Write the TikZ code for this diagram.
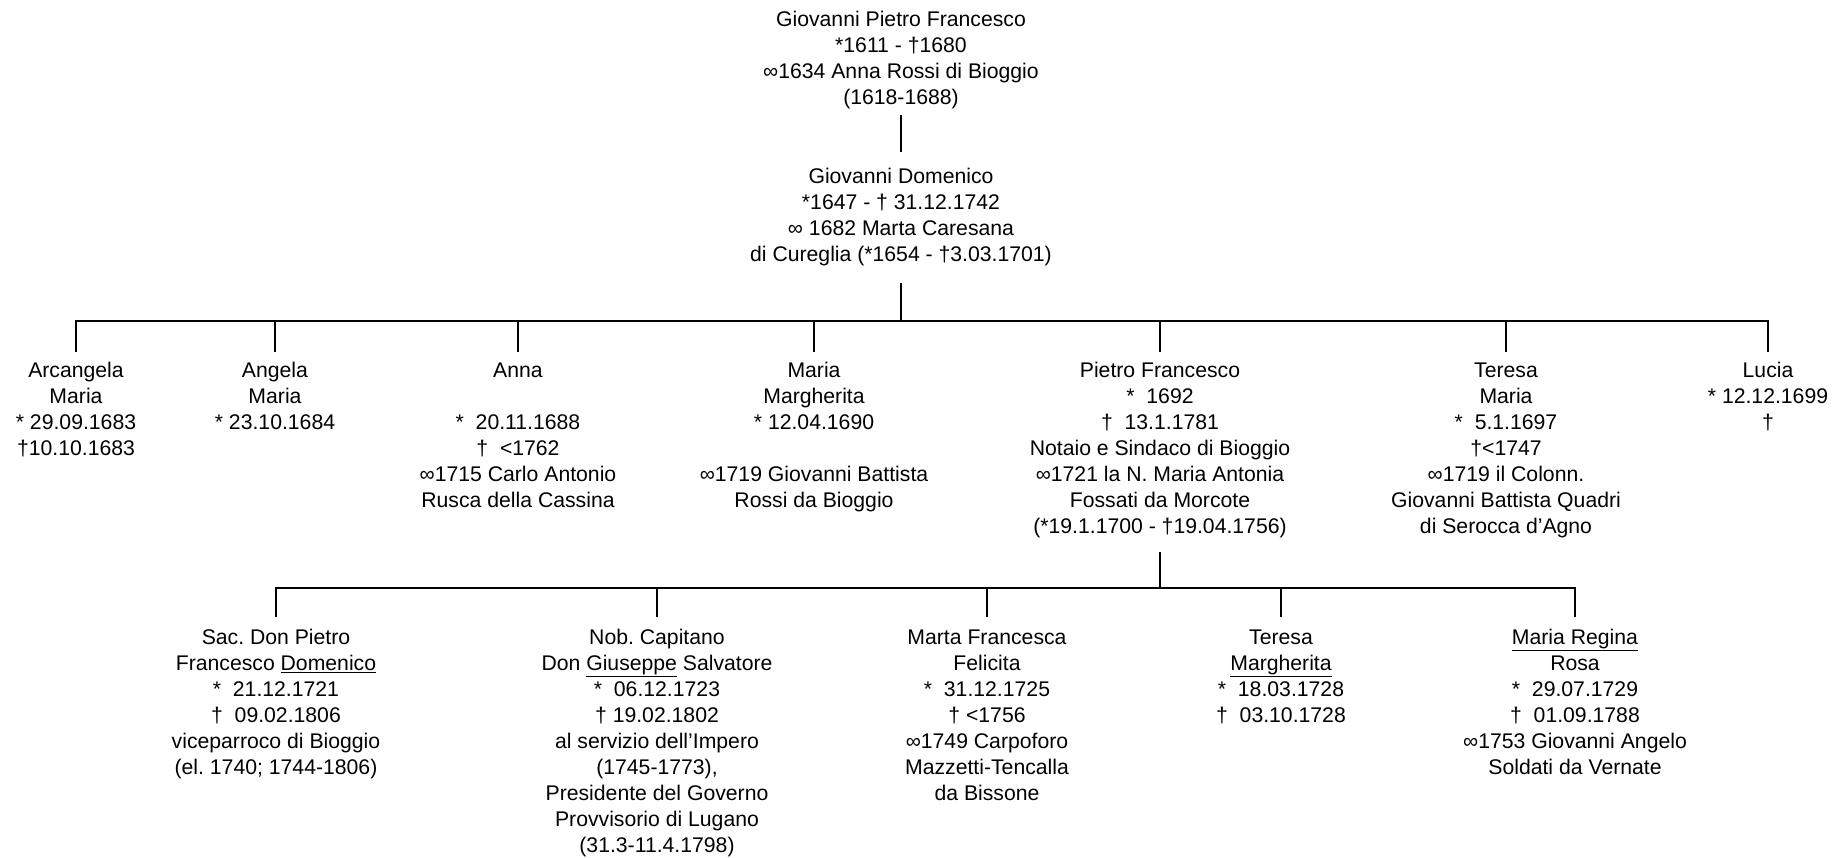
\documentclass[tikz,border=0pt]{standalone}
\usepackage{fontspec}
\setmainfont{Liberation Sans}
\frenchspacing

\begin{document}
\begin{tikzpicture}[x=1pt, y=-1pt, line width=2pt, font=\fontsize{21.2}{26}\selectfont,
    person/.style={align=center, inner sep=0pt, anchor=north}]
    \useasboundingbox (0,0) rectangle (1847,857);

    \node[person] (gpf) at (901,10.5) {Giovanni Pietro Francesco\\ *1611 - †1680\\ ∞1634 Anna Rossi di Bioggio\\ (1618-1688)};
    \node[person] (gd) at (901,167.5) {Giovanni Domenico\\ *1647 - † 31.12.1742\\ ∞ 1682 Marta Caresana\\ di Cureglia (*1654 - †3.03.1701)};

    \node[person] (arcangela) at (76,361.5) {Arcangela\\ Maria\\ * 29.09.1683\\ †10.10.1683};
    \node[person] (angela) at (275,361.5) {Angela\\ Maria\\ * 23.10.1684};
    \node[person] (anna) at (518,361.5) {Anna\\[26pt] *\ \ 20.11.1688\\ †\ \ <1762\\ ∞1715 Carlo Antonio\\ Rusca della Cassina};
    \node[person] (mariam) at (814,361.5) {Maria\\ Margherita\\ * 12.04.1690\\[26pt] ∞1719 Giovanni Battista\\ Rossi da Bioggio};
    \node[person] (pietro) at (1160,361.5) {Pietro Francesco\\ *\ \ 1692\\ †\ \ 13.1.1781\\ Notaio e Sindaco di Bioggio\\ ∞1721 la N. Maria Antonia\\ Fossati da Morcote\\ (*19.1.1700 - †19.04.1756)};
    \node[person] (teresam) at (1506,361.5) {Teresa\\ Maria\\ *\ \ 5.1.1697\\ †<1747\\ ∞1719 il Colonn.\\ Giovanni Battista Quadri\\ di Serocca d’Agno};
    \node[person] (lucia) at (1768,361.5) {Lucia\\ * 12.12.1699\\ †};

    \node[person] (pfd) at (276,628.5) {Sac. Don Pietro\\ Francesco \underline{Domenico}\\ *\ \ 21.12.1721\\ †\ \ 09.02.1806\\ viceparroco di Bioggio\\ (el. 1740; 1744-1806)};
    \node[person] (giuseppe) at (657,628.5) {Nob. Capitano\\ Don \underline{Giuseppe} Salvatore\\ *\ \ 06.12.1723\\ † 19.02.1802\\ al servizio dell’Impero\\ (1745-1773),\\ Presidente del Governo\\ Provvisorio di Lugano\\ (31.3-11.4.1798)};
    \node[person] (marta) at (987,628.5) {Marta Francesca\\ Felicita\\ *\ \ 31.12.1725\\ † <1756\\ ∞1749 Carpoforo\\ Mazzetti-Tencalla\\ da Bissone};
    \node[person] (teresa) at (1281,628.5) {Teresa\\ \underline{Margherita}\\ *\ \ 18.03.1728\\ †\ \ 03.10.1728};
    \node[person] (regina) at (1575,628.5) {\underline{Maria Regina}\\ Rosa\\ *\ \ 29.07.1729\\ †\ \ 01.09.1788\\ ∞1753 Giovanni Angelo\\ Soldati da Vernate};

    \coordinate (kids) at (901,321);
    \coordinate (grandkids) at (1160,588);

    \draw[shorten <=4.7pt, shorten >=15.5pt] (gpf.south) -- (gd.north);
    \draw[shorten <=15.7pt] (gd.south) -- (kids);
    \foreach \k in {arcangela, angela, anna, mariam, pietro, teresam, lucia}
        \draw[shorten >=9.5pt] (kids) -| (\k.north);
    \draw[shorten <=12.6pt] (pietro.south) -- (grandkids);
    \foreach \k in {pfd, giuseppe, marta, teresa, regina}
        \draw[shorten >=11.5pt] (grandkids) -| (\k.north);
\end{tikzpicture}
\end{document}
